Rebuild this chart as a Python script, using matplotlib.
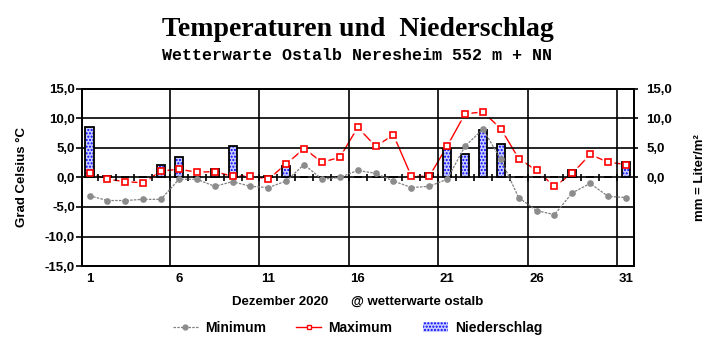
import matplotlib.pyplot as plt
from matplotlib.patches import Patch
from matplotlib.lines import Line2D

days = list(range(1, 32))
t_min = [-3.1, -3.9, -3.9, -3.7, -3.7, -0.3, -0.3, -1.5, -0.7, -1.5,
         -1.7, -0.6, 2.2, -0.3, 0.0, 1.2, 0.7, -0.6, -1.7, -1.5,
         -0.3, 5.3, 8.2, 3.1, -3.4, -5.6, -6.3, -2.6, -1.0, -3.2, -3.4]
t_max = [0.7, -0.3, -0.7, -0.9, 1.1, 1.4, 0.9, 1.0, 0.2, 0.3,
         -0.3, 2.3, 4.9, 2.6, 3.4, 8.5, 5.3, 7.2, 0.2, 0.2,
         5.3, 10.8, 11.1, 8.3, 3.2, 1.2, -1.5, 0.7, 3.9, 2.6, 2.2]
rain = [8.5, 0.2, 0.0, 0.0, 2.2, 3.4, 0.0, 1.4, 5.4, 0.0,
        0.3, 2.0, 0.1, 0.0, 0.1, 0.0, 0.1, 0.0, 0.0, 0.7,
        4.8, 3.9, 8.0, 5.6, 0.0, 0.0, 0.0, 1.2, 0.0, 0.1, 2.6]
tick_days = [1, 6, 11, 16, 21, 26, 31]
temp_ticks = [-15, -10, -5, 0, 5, 10, 15]
rain_ticks = [0, 5, 10, 15]

def fmt(v):
    return f"{v:.1f}".replace(".", ",")

plt.rcParams["font.family"] = ["Liberation Sans", "DejaVu Sans"]
plt.rcParams["hatch.linewidth"] = 1.0

fig = plt.figure(figsize=(7.15, 3.52), dpi=100)
ax = fig.add_axes([0.1147, 0.2443, 0.772, 0.5029])
ax2 = ax.twinx()

# maximum line, broken around the markers (drawn below the grid)
ax.plot(days, t_max, color="red", lw=1.0, zorder=1.0)
ax.plot(days, t_max, ls="none", marker="s", ms=8, mfc="white",
        mec="none", zorder=1.1)

# niederschlag (same scale as temperature axis)
ax.bar(days, rain, width=0.45, color="#c8ccff", edgecolor="blue",
       hatch=".....", linewidth=0, zorder=2)
ax.bar(days, rain, width=0.45, fill=False, edgecolor="black",
       linewidth=1.3, zorder=3)

# minimum
ax.plot(days, t_min, color="#808080", lw=0.9, ls=(0, (2, 1)), zorder=4)
ax.plot(days, t_min, ls="none", marker="o", ms=3.8, mfc="#8c8c8c",
        mec="#8c8c8c", zorder=5)

# maximum markers
ax.plot(days, t_max, ls="none", marker="s", ms=5, mfc="white",
        mec="red", mew=1.2, zorder=6)

# day ticks on the zero line
ax.vlines([d + 0.5 for d in days[:-1]], -0.6, 0.6, color="black",
          lw=1.2, zorder=3)

ax.set_xlim(0.58, 31.45)
ax.set_ylim(-15, 15)
ax2.set_ylim(-15, 15)

ax.set_yticks(temp_ticks)
ax.set_yticklabels([fmt(v) for v in temp_ticks])
ax2.set_yticks(rain_ticks)
ax2.set_yticklabels([fmt(v) for v in rain_ticks])

ax.set_xticks(tick_days)
ax.set_xticklabels([str(d) for d in tick_days])
ax.set_xticks([5.5, 10.5, 15.5, 20.5, 25.5, 30.5], minor=True)

ax.grid(axis="y", which="major", color="black", lw=1.2)
ax.grid(axis="x", which="minor", color="black", lw=1.2)
ax.set_axisbelow("line")

ax.tick_params(axis="x", which="both", length=0, pad=5,
               labelsize=9.5)
ax.tick_params(axis="y", length=4, width=1.2, pad=1, labelsize=9.5)
ax2.tick_params(axis="y", length=3, width=1.2, pad=6, labelsize=9.5)
for lab in ax.get_xticklabels() + ax.get_yticklabels() + ax2.get_yticklabels():
    lab.set_fontweight("bold")

for a in (ax, ax2):
    for sp in a.spines.values():
        sp.set_linewidth(1.3)
        sp.set_color("black")

ax.set_ylabel("Grad Celsius °C", fontsize=9.5, fontweight="bold",
              labelpad=12)
ax2.set_ylabel("mm = Liter/m²", fontsize=9.5, fontweight="bold",
               labelpad=16)

fig.text(0.5, 0.915, "Temperaturen und  Niederschlag",
         family="Liberation Serif", fontsize=20, fontweight="bold",
         ha="center", va="center")
fig.text(0.5, 0.842, "Wetterwarte Ostalb Neresheim 552 m + NN",
         family="Liberation Mono", fontsize=12, fontweight="bold",
         ha="center", va="center")

fig.text(0.392, 0.142, "Dezember 2020", fontsize=9.5, fontweight="bold",
         ha="center", va="center")
fig.text(0.583, 0.142, "@ wetterwarte ostalb", fontsize=9.5,
         fontweight="bold", ha="center", va="center")

handles = [
    Line2D([], [], color="#808080", lw=0.9, ls=(0, (2, 1)), marker="o",
           ms=3.5, mfc="#8c8c8c", mec="#8c8c8c"),
    Line2D([], [], color="red", lw=1.0, marker="s", ms=3.5, mfc="white",
           mec="red"),
    Patch(facecolor="#c8ccff", edgecolor="blue", hatch=".....", lw=0),
]
leg = fig.legend(handles, ["Minimum", "Maximum", "Niederschlag"],
                 loc="center", bbox_to_anchor=(0.5, 0.068), ncol=3,
                 frameon=False, handlelength=1.8, handletextpad=0.5,
                 columnspacing=2.2, prop={"weight": "bold", "size": 10})

fig.savefig("out.png", dpi=100)
